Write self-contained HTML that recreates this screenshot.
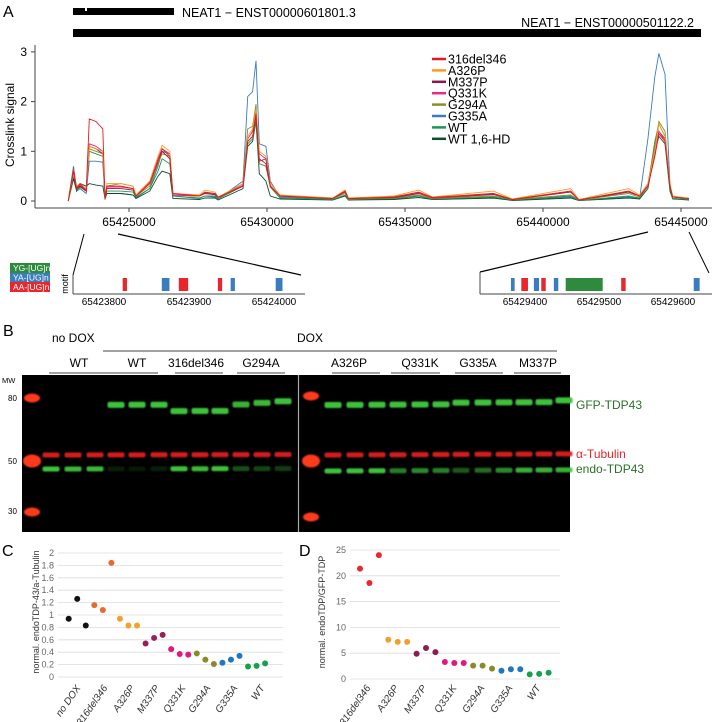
<!DOCTYPE html>
<html><head><meta charset="utf-8"><style>
html,body{margin:0;padding:0;background:#fff;}
svg{display:block;font-family:"Liberation Sans",Arial,sans-serif;}
</style></head><body>
<svg id="fig" width="728" height="722" viewBox="0 0 728 722" xmlns="http://www.w3.org/2000/svg">
<defs><filter id="blur" x="-20%" y="-50%" width="140%" height="200%"><feGaussianBlur stdDeviation="0.9"/></filter></defs>
<g id="pA">
<text x="3" y="17" font-size="16">A</text>
<rect x="73" y="8" width="101" height="7" fill="#000"/>
<rect x="85" y="8" width="2" height="3" fill="#fff"/>
<text x="182" y="17" font-size="12.5">NEAT1 − ENST00000601801.3</text>
<text x="694" y="27" font-size="12.5" text-anchor="end">NEAT1 − ENST00000501122.2</text>
<rect x="73" y="29" width="628" height="8" fill="#000"/>
<line x1="35" y1="45" x2="35" y2="208" stroke="#444"/>
<line x1="35" y1="208" x2="712" y2="208" stroke="#444"/>
<text transform="translate(14,125) rotate(-90)" font-size="12" text-anchor="middle">Crosslink signal</text>
<g id="aTicks"></g><g id="aLines"></g><g id="aLegend"></g>
</g>
<g id="motifs">
<line x1="84" y1="234" x2="73" y2="275" stroke="#000"/>
<line x1="118" y1="234" x2="301" y2="275" stroke="#000" stroke-width="1.2"/>
<line x1="480" y1="272" x2="648" y2="232" stroke="#000" stroke-width="1.2"/>
<line x1="689" y1="232" x2="709" y2="273" stroke="#000"/>
<rect x="10" y="263" width="40" height="10" fill="#2e8b3e"/>
<rect x="10" y="273" width="40" height="9" fill="#3a7cc0"/>
<rect x="10" y="282" width="40" height="10" fill="#e8262b"/>
<text x="13" y="271" font-size="8.5" fill="#fff">YG-[UG]n</text>
<text x="13" y="280.5" font-size="8.5" fill="#fff">YA-[UG]n</text>
<text x="13" y="290" font-size="8.5" fill="#fff">AA-[UG]n</text>
<text transform="translate(68,284) rotate(-90)" font-size="9" text-anchor="middle">motif</text>
<line x1="73" y1="275" x2="73" y2="294" stroke="#444"/>
<line x1="73" y1="294" x2="305" y2="294" stroke="#444"/>
<line x1="480" y1="272" x2="480" y2="294" stroke="#444"/>
<line x1="480" y1="294" x2="712" y2="294" stroke="#444"/>
<g id="mL"></g><g id="mR"></g>
</g>
<g id="pB">
<text x="3" y="336" font-size="16">B</text>
<text x="52" y="342" font-size="12">no DOX</text>
<text x="310" y="342" font-size="12" text-anchor="middle">DOX</text>
<line x1="103" y1="351" x2="557" y2="351" stroke="#444"/>
<g id="laneLabels"></g>
<rect x="22" y="375" width="548" height="157" fill="#000"/>
<line x1="298.5" y1="375" x2="298.5" y2="532" stroke="#aaa" stroke-width="1.2"/>
<text x="2" y="383" font-size="7.5">MW</text>
<text x="8" y="401" font-size="8">80</text>
<text x="8" y="464" font-size="8">50</text>
<text x="8" y="514" font-size="8">30</text>
<g id="bands" filter="url(#blur)"></g>
<text x="576" y="409" font-size="12" fill="#2c6e2a">GFP-TDP43</text>
<text x="576" y="458" font-size="12" fill="#e8262b">α-Tubulin</text>
<text x="576" y="473" font-size="12" fill="#2c6e2a">endo-TDP43</text>
</g>
<g id="pC">
<text x="2" y="556" font-size="16">C</text>
<text transform="translate(39,612) rotate(-90)" font-size="9" fill="#333" text-anchor="middle">normal. endoTDP-43/a-Tubulin</text>
</g>
<g id="pD">
<text x="299" y="556" font-size="16">D</text>
<text transform="translate(325,612) rotate(-90)" font-size="9" fill="#333" text-anchor="middle">normal. endoTDP/GFP-TDP</text>
</g>
</svg>
<script>
const NS="http://www.w3.org/2000/svg";
// ---- Panel A data ----
const seriesNames=["316del346","A326P","M337P","Q331K","G294A","G335A","WT","WT 1,6-HD"];
const seriesColors=["#e41a1c","#ff9a1f","#8b1a4a","#e7298a","#8c8c2a","#3a7cc0","#1a9850","#0b4d2e"];
const xTickValues=[65425000,65430000,65435000,65440000,65445000];
const yTickValues=[0,1,2,3];
const positions=[65422800,65422990,65423100,65423230,65423450,65423560,65423800,65424050,65424130,65424200,65424700,65425150,65425250,65425750,65426050,65426200,65426480,65426590,65427550,65427750,65428120,65428230,65429130,65429300,65429480,65429600,65429720,65429960,65430120,65430470,65432380,65432830,65432950,65434600,65435500,65436000,65438200,65438900,65441000,65441300,65443100,65443500,65443800,65444050,65444200,65444420,65444600,65444700,65445290];
const s316del346=[0,0.6,0.25,0.35,0.2,1.65,1.6,1.45,0.05,0.3,0.3,0.25,0.1,0.35,0.8,1.05,0.9,0.15,0.1,0.18,0.15,0.08,0.3,1.2,1.3,1.75,0.8,0.85,0.3,0.1,0.05,0.2,0.05,0.08,0.18,0.07,0.15,0.03,0.2,0.02,0.2,0.1,0.3,0.9,1.35,1.2,0.3,0.08,0.05];
const sA326P=[0,0.55,0.3,0.35,0.25,1.1,1.05,1.0,0.05,0.35,0.35,0.3,0.12,0.4,0.9,1.12,1.0,0.15,0.12,0.22,0.18,0.08,0.35,1.3,1.45,1.85,1.0,0.9,0.35,0.12,0.06,0.22,0.06,0.1,0.22,0.08,0.2,0.04,0.25,0.03,0.25,0.12,0.35,1.0,1.55,1.3,0.35,0.1,0.05];
const sM337P=[0,0.6,0.25,0.3,0.2,1.1,1.05,0.95,0.05,0.25,0.25,0.22,0.1,0.35,0.8,1.0,0.85,0.12,0.1,0.15,0.13,0.07,0.3,1.2,1.3,1.7,0.85,0.75,0.3,0.1,0.05,0.18,0.05,0.07,0.15,0.06,0.13,0.03,0.18,0.02,0.18,0.1,0.3,0.9,1.4,1.25,0.3,0.08,0.05];
const sQ331K=[0,0.65,0.28,0.32,0.22,1.15,1.1,1.0,0.05,0.28,0.28,0.25,0.1,0.38,0.85,1.05,0.95,0.12,0.1,0.17,0.15,0.07,0.32,1.25,1.4,1.8,0.95,0.85,0.3,0.1,0.05,0.2,0.05,0.08,0.17,0.06,0.15,0.03,0.2,0.02,0.2,0.1,0.3,0.95,1.4,1.2,0.3,0.08,0.05];
const sG294A=[0,0.6,0.25,0.3,0.25,1.05,1.0,0.95,0.05,0.3,0.35,0.3,0.1,0.3,0.75,0.95,0.9,0.12,0.1,0.15,0.13,0.06,0.35,1.45,1.5,1.95,0.75,0.7,0.3,0.1,0.05,0.15,0.04,0.06,0.12,0.05,0.1,0.03,0.12,0.02,0.15,0.08,0.35,1.1,1.6,1.4,0.3,0.08,0.05];
const sG335A=[0,0.5,0.2,0.25,0.15,0.8,0.8,0.78,0.03,0.15,0.15,0.12,0.06,0.25,0.7,1.0,0.95,0.1,0.05,0.1,0.08,0.04,0.4,2.1,2.2,2.82,1.15,1.1,0.4,0.08,0.03,0.1,0.03,0.04,0.1,0.03,0.06,0.02,0.08,0.01,0.08,0.05,1.25,2.5,2.97,2.55,0.3,0.05,0.03];
const sWT=[0,0.7,0.22,0.28,0.2,1.0,0.95,0.9,0.04,0.2,0.2,0.18,0.08,0.25,0.6,0.85,0.75,0.1,0.06,0.1,0.1,0.04,0.3,1.15,1.25,1.6,0.75,0.7,0.28,0.06,0.03,0.12,0.03,0.05,0.1,0.04,0.08,0.02,0.1,0.01,0.1,0.06,0.3,1.2,1.55,1.3,0.25,0.05,0.03];
const sWTHD=[0,0.45,0.2,0.35,0.3,0.35,0.32,0.3,0.05,0.15,0.15,0.12,0.05,0.2,0.5,0.6,0.55,0.05,0.03,0.06,0.06,0.02,0.25,1.1,1.2,1.6,0.55,0.4,0.1,0.04,0.02,0.1,0.02,0.03,0.07,0.03,0.06,0.01,0.06,0.01,0.06,0.04,0.25,1.0,1.3,1.15,0.2,0.04,0.02];
const seriesValues=[s316del346,sA326P,sM337P,sQ331K,sG294A,sG335A,sWT,sWTHD];
// ---- motif data ----
const leftMotifStart=[65423822,65423868,65423888,65423934,65423949,65424002];
const leftMotifEnd=[65423827,65423877,65423899,65423939,65423954,65424010];
const leftMotifType=["AA","YA","AA","AA","YA","YA"];
const leftTicks=[65423800,65423900,65424000];
const rightMotifStart=[65429381,65429395,65429412,65429422,65429439,65429455,65429530,65429628];
const rightMotifEnd=[65429386,65429404,65429419,65429428,65429445,65429505,65429536,65429636];
const rightMotifType=["YA","AA","YA","AA","YA","YG","AA","YA"];
const rightTicks=[65429400,65429500,65429600];
// ---- blot data ----
const laneNames=["WT","WT","316del346","G294A","A326P","Q331K","G335A","M337P"];
const gfpIntensity=[0,0,0,1,1,1,1,1,1,0.9,0.95,1, 1,1,1,1,1,1,1,1,1,1,1,1];
const endoIntensity=[1,0.95,0.95,0.15,0.12,0.15,1,0.95,1,0.4,0.35,0.3, 1,1,1,0.65,0.7,0.65,0.45,0.55,0.7,0.9,0.9,0.9];
const gfpMW=[0,0,0,78,78,78,74,74,74,78,79,80, 78,78,78,78,78,78,79,79,79,79,79,80];
// ---- panel C data ----
const cCategories=["no DOX","316del346","A326P","M337P","Q331K","G294A","G335A","WT"];
const cValues=[0.94,1.26,0.83,1.16,1.08,1.84,0.94,0.83,0.83,0.54,0.63,0.68,0.45,0.37,0.36,0.38,0.28,0.21,0.23,0.28,0.34,0.17,0.18,0.22];
const cColors=["#111","#e8692a","#f2a22a","#9b1e5a","#e0197d","#8a8a2a","#1f77c0","#17a050"];
const cTicks=[0,0.2,0.4,0.6,0.8,1,1.2,1.4,1.6,1.8,2];
const cTickLabels=["0","0.2","0.4","0.6","0.8","1","1.2","1.4","1.6","1.8","2"];
// ---- panel D data ----
const dCategories=["316del346","A326P","M337P","Q331K","G294A","G335A","WT"];
const dValues=[21.4,18.6,24,7.6,7.2,7.2,4.9,6.0,5.2,3.3,3.1,3.1,2.6,2.6,2.0,1.6,1.9,1.9,0.9,1.0,1.2];
const dColors=["#e8282f","#f0a030","#8e1c50","#e0197d","#8a8a2a","#1f77c0","#17a050"];
const dTicks=[0,5,10,15,20,25];

function el(tag,parent){const e=document.createElementNS(NS,tag);parent.appendChild(e);return e;}
function set(e,o){for(const k in o)e.setAttribute(k,o[k]);return e;}
// Panel A
const gx=g=>129+(g-65425000)/5000*138;
const ys=v=>201-v*49.7;
const aT=document.getElementById('aTicks');
xTickValues.forEach(v=>{
  const t=el('line',aT);set(t,{x1:gx(v),x2:gx(v),y1:208,y2:212,stroke:'#444'});
  
  
  const l=el('text',aT);set(l,{x:gx(v),y:226,'font-size':12,'text-anchor':'middle'});l.textContent=v;
  
  
});
yTickValues.forEach(v=>{
  const t=el('line',aT);set(t,{x1:31,x2:35,y1:ys(v),y2:ys(v),stroke:'#444'});
  
  
  const l=el('text',aT);set(l,{x:27,y:ys(v)+4,'font-size':12,'text-anchor':'end'});l.textContent=v;
  
  
});
const aL=document.getElementById('aLines');
const order=[6,7,4,2,3,1,0,5];
[5,7,6,4,2,3,1,0].forEach(i=>{
  const vals=seriesValues[i];const n=Math.min(vals.length,positions.length);
  let d='';for(let k=0;k<n;k++){d+=(k?'L':'M')+gx(positions[k]).toFixed(1)+','+ys(vals[k]).toFixed(1);}
  const p=el('path',aL);set(p,{d:d,fill:'none',stroke:seriesColors[i],'stroke-width':0.9});
  
  
});
const aLg=document.getElementById('aLegend');
seriesNames.forEach((n,i)=>{
  const y=59+i*11.4;
  const r=el('line',aLg);set(r,{x1:432,x2:446,y1:y,y2:y,stroke:seriesColors[i],'stroke-width':2.5});
  
  
  const t=el('text',aLg);set(t,{x:448,y:y+4.5,'font-size':12.5});t.textContent=n;
  
  
});
// motifs
const motifColor={AA:'#e8262b',YA:'#3a7cc0',YG:'#2e8b3e'};
function inset(gid,starts,ends,types,ticks,x0,bp0,scale){
  const g=document.getElementById(gid);const sx=b=>x0+(b-bp0)*scale;
  starts.forEach((s,i)=>{const r=el('rect',g);set(r,{x:sx(s),y:278,width:Math.max(3,sx(ends[i])-sx(s)),height:13,fill:motifColor[types[i]]});
    
    });
  ticks.forEach(t=>{const l=el('text',g);set(l,{x:sx(t),y:305,'font-size':10,'text-anchor':'middle'});l.textContent=t;
    
    });
}
inset('mL',leftMotifStart,leftMotifEnd,leftMotifType,leftTicks,104,65423800,0.85);
inset('mR',rightMotifStart,rightMotifEnd,rightMotifType,rightTicks,525,65429400,0.74);
// Lane labels
const lbl=document.getElementById('laneLabels');
const lblX=[79,137,196,261,349,420,478,538];
const ulX1=[49,49,175,237,332,391,455,514],ulX2=[158,158,223,285,380,440,503,561];
laneNames.forEach((n,i)=>{const t=el('text',lbl);set(t,{x:lblX[i],y:367,'font-size':12,'text-anchor':'middle'});t.textContent=n;
  
  
  if(i!==1){const l=el('line',lbl);set(l,{x1:ulX1[i],x2:ulX2[i],y1:373,y2:373,stroke:'#444'});
  
  }
});
// Bands
const bands=document.getElementById('bands');
const laneX=[51,73,95,116,137,159,179,200,220,241,262,283,333,355,377,398,420,441,461,483,504,524,544,564];
const mwY=mw=>405-(mw-78)*1.6;
function band(x,y,w,h,col,op,name){const r=el('rect',bands);set(r,{x:x-w/2,y:y-h/2,width:w,height:h,rx:2,fill:col,opacity:op});
  
  }
laneX.forEach((x,i)=>{
  const rs=i>=12?(i-12)*-0.25:(i*-0.1);
  if(gfpMW[i]>0)band(x,mwY(gfpMW[i])+rs*0.5,17,6,'#3ec23a',gfpIntensity[i],'gfp-band');
  band(x,(i<12?455:455)+rs*0.4,17,5,'#e02020',0.95,'tubulin-band');
  band(x,(i<12?469:471)+rs*0.4,17,5,'#3ec23a',endoIntensity[i],'endo-band');
});
[[32,398,14,9],[32,461,16,13],[32,512,14,9],[311,396,14,9],[311,461,16,13],[311,517,14,9]].forEach(m=>{
  const e=el('ellipse',bands);set(e,{cx:m[0],cy:m[1],rx:m[2]/2+1,ry:m[3]/2,fill:'#ff3a1a'});
  
  
});
// Dot charts
function dotChart(gid,values,cats,colors,ticks,tickLabels,x0,x1,y0,yTop,vMax,px0,pdx,labelEnds,catSize){
  const g=document.getElementById(gid);const sy=v=>y0-(v/vMax)*(y0-yTop);
  ticks.forEach((t,i)=>{const l=el('line',g);set(l,{x1:x0,x2:x1,y1:sy(t),y2:sy(t),stroke:'#dcdcdc','stroke-width':0.8});
    
    
    const tx=el('text',g);set(tx,{x:x0-4,y:sy(t)+3,'font-size':9,fill:'#666','text-anchor':'end'});tx.textContent=tickLabels[i];
    
    });
  values.forEach((v,i)=>{const c=el('circle',g);set(c,{cx:px0+i*pdx,cy:sy(v),r:3,fill:colors[Math.floor(i/catSize)]});
    
    });
  cats.forEach((c,i)=>{const t=el('text',g);set(t,{transform:'translate('+labelEnds[i]+',688) rotate(-55)','font-size':10,'font-style':'italic',fill:'#333','text-anchor':'end'});t.textContent=c;
    
    });
}
dotChart('pC',cValues,cCategories,cColors,cTicks,cTickLabels,58,283,677,553,2,68.7,8.54,[81,108,135,160,186,211,238,265],3);
dotChart('pD',dValues,dCategories,dColors,dTicks,dTicks.map(String),350,560,679,550,25,360,9.43,[371,399,427,457,485,513,541],3);
</script>
</body></html>
